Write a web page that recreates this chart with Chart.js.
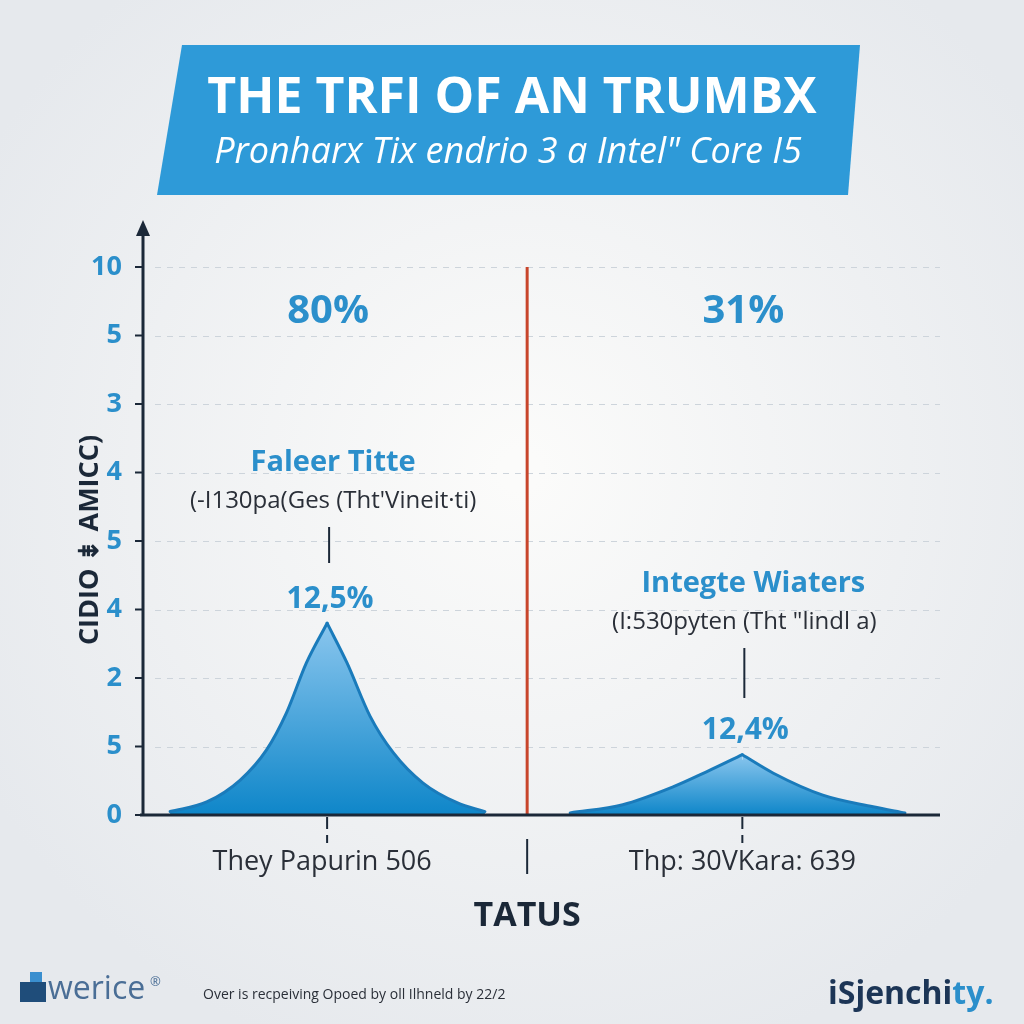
<!DOCTYPE html>
<html>
<head>
<meta charset="utf-8">
<script src="https://cdn.jsdelivr.net/npm/chart.js@4.4.1/dist/chart.umd.min.js"></script>
<style>
  html, body { margin: 0; padding: 0; background: #eceff2; }
  #wrap { width: 1024px; height: 1024px; }
</style>
</head>
<body>
<div id="wrap"><canvas id="chart" width="1024" height="1024"></canvas></div>
<script>
// data
const yTickValues = [0, 1, 2, 3, 4, 5, 6, 7, 8];
const yTickLabels = ['0', '5', '2', '4', '5', '4', '3', '5', '10'];

const leftX = [3.4, 8.0, 12.2, 15.5, 18.0, 20.5, 23.1, 25.6, 28.5, 31.4, 35.1, 39.4, 42.9];
const leftY = [0.05, 0.19, 0.51, 0.95, 1.49, 2.22, 2.80, 2.22, 1.44, 0.91, 0.47, 0.18, 0.05];

const rightX = [53.6, 60.2, 66.5, 70.7, 75.2, 79.1, 85.3, 91.6, 95.6];
const rightY = [0.03, 0.15, 0.41, 0.63, 0.88, 0.61, 0.29, 0.12, 0.03];

const dividerX = 48.2;

const categoryLabels = ['They Papurin 506', 'Thp: 30VKara: 639'];
const bigPercents = ['80%', '31%'];
const seriesNames = ['Faleer Titte', 'Integte Wiaters'];
const seriesNotes = ["(-I130pa(Ges (Tht'Vineit·ti)", '(I:530pyten (Tht "lindl a)'];
const peakLabels = ['12,5%', '12,4%'];

const titleText = 'THE TRFI OF AN TRUMBX';
const subtitleText = 'Pronharx Tix endrio 3 a Intel" Core I5';
const xTitle = 'TATUS';
const yTitle = 'CIDIO \u21DF AMICC)';

const toPoints = (xs, ys) => xs.map((x, i) => ({ x, y: ys[i] }));
const peakIndex = ys => ys.indexOf(Math.max(...ys));

function makeGradient(chart, topVal) {
    const ys = chart.scales.y;
    const g = chart.ctx.createLinearGradient(0, ys.getPixelForValue(topVal), 0, ys.getPixelForValue(0));
    g.addColorStop(0, '#8ac6ee');
    g.addColorStop(1, '#0e86c9');
    return g;
}

function areaFill(topVal) {
    return (context) => {
        const chart = context.chart;
        if (!chart.chartArea) return '#3a9ad8';
        return makeGradient(chart, topVal);
    };
}

// each peak is drawn as two halves so the top stays a sharp point
function halves(xs, ys) {
    const p = peakIndex(ys);
    const top = ys[p];
    const base = {
        borderColor: '#1a7bbb',
        borderWidth: 3,
        borderCapStyle: 'round',
        borderJoinStyle: 'round',
        backgroundColor: areaFill(top),
        fill: 'origin',
        pointRadius: 0,
        cubicInterpolationMode: 'monotone'
    };
    return [
        Object.assign({ data: toPoints(xs.slice(0, p + 1), ys.slice(0, p + 1)) }, base),
        Object.assign({ data: toPoints(xs.slice(p), ys.slice(p)) }, base)
    ];
}

const backdrop = {
    id: 'backdrop',
    beforeDraw(chart) {
        const ctx = chart.ctx;
        const W = chart.width, H = chart.height;
        ctx.save();
        const bg = ctx.createRadialGradient(520, 470, 20, 520, 470, 620);
        bg.addColorStop(0, '#fbfbfa');
        bg.addColorStop(1, '#e6e9ed');
        ctx.fillStyle = bg;
        ctx.fillRect(0, 0, W, H);

        // title banner
        ctx.fillStyle = '#2e9ad8';
        ctx.beginPath();
        ctx.moveTo(182, 45);
        ctx.lineTo(860, 45);
        ctx.lineTo(848, 195);
        ctx.lineTo(157, 195);
        ctx.closePath();
        ctx.fill();
        ctx.fillStyle = '#ffffff';
        ctx.textAlign = 'center';
        ctx.textBaseline = 'middle';
        ctx.font = 'bold 50px "Open Sans"';
        ctx.fillText(titleText, 512, 99);
        ctx.font = 'italic 36px "Open Sans"';
        ctx.fillText(subtitleText, 508, 153);

        // dashed grid
        const ys = chart.scales.y;
        const a = chart.chartArea;
        ctx.strokeStyle = '#cdd4db';
        ctx.lineWidth = 1;
        ctx.setLineDash([6, 6]);
        yTickValues.forEach(v => {
            if (v === 0) return;
            const py = Math.round(ys.getPixelForValue(v)) + 0.5;
            ctx.beginPath();
            ctx.moveTo(a.left + 12, py);
            ctx.lineTo(a.right, py);
            ctx.stroke();
        });
        ctx.restore();
    },
    afterDatasetsDraw(chart) {
        const ctx = chart.ctx;
        const xs = chart.scales.x, ys = chart.scales.y;
        const a = chart.chartArea;
        const y0 = ys.getPixelForValue(0);
        const peaksX = [leftX[peakIndex(leftY)], rightX[peakIndex(rightY)]];
        const peaksY = [Math.max(...leftY), Math.max(...rightY)];
        ctx.save();

        // hide the seam where the two halves of each peak meet
        peaksX.forEach((px, i) => {
            const cx = xs.getPixelForValue(px);
            ctx.strokeStyle = makeGradient(chart, peaksY[i]);
            ctx.lineWidth = 2;
            ctx.beginPath();
            ctx.moveTo(cx, ys.getPixelForValue(peaksY[i]) + 5);
            ctx.lineTo(cx, y0 - 1);
            ctx.stroke();
        });

        ctx.strokeStyle = '#1b2838';
        ctx.fillStyle = '#1b2838';
        ctx.lineWidth = 3;

        // axes
        ctx.beginPath();
        ctx.moveTo(a.left, y0);
        ctx.lineTo(a.left, 232);
        ctx.moveTo(a.left - 3, y0);
        ctx.lineTo(a.right, y0);
        ctx.stroke();
        ctx.beginPath();
        ctx.moveTo(a.left, 220);
        ctx.lineTo(a.left - 7, 236);
        ctx.lineTo(a.left + 7, 236);
        ctx.closePath();
        ctx.fill();

        // y ticks and labels
        ctx.lineWidth = 2;
        ctx.textAlign = 'right';
        ctx.textBaseline = 'middle';
        ctx.font = 'bold 27px "Open Sans"';
        yTickValues.forEach((v, i) => {
            const py = ys.getPixelForValue(v);
            ctx.strokeStyle = '#1b2838';
            ctx.beginPath();
            ctx.moveTo(a.left - 8, py);
            ctx.lineTo(a.left, py);
            ctx.stroke();
            ctx.fillStyle = '#2b8fcb';
            ctx.fillText(yTickLabels[i], a.left - 21, py);
        });

        // y title
        ctx.save();
        ctx.translate(90, 540);
        ctx.rotate(-Math.PI / 2);
        ctx.fillStyle = '#1b2838';
        ctx.textAlign = 'center';
        ctx.font = 'bold 27px "Open Sans"';
        ctx.fillText(yTitle, 0, 0);
        ctx.restore();

        // x ticks at peaks, category labels
        ctx.strokeStyle = '#1b2838';
        ctx.lineWidth = 2;
        peaksX.forEach((px, i) => {
            const cx = xs.getPixelForValue(px);
            ctx.beginPath();
            ctx.moveTo(cx, y0 + 2);
            ctx.lineTo(cx, y0 + 14);
            ctx.moveTo(cx, y0 + 20);
            ctx.lineTo(cx, y0 + 28);
            ctx.stroke();
            ctx.fillStyle = '#2a2f38';
            ctx.textAlign = 'center';
            ctx.font = '27px "Open Sans"';
            ctx.fillText(categoryLabels[i], cx - (i === 0 ? 5 : 0), y0 + 47);
        });
        const dx = xs.getPixelForValue(dividerX);
        ctx.beginPath();
        ctx.moveTo(dx, y0 + 24);
        ctx.lineTo(dx, y0 + 59);
        ctx.stroke();

        ctx.fillStyle = '#1b2838';
        ctx.font = 'bold 34px "Open Sans"';
        ctx.fillText(xTitle, dx, y0 + 101);

        // annotations
        const bigY = 312;
        const nameY = [463, 584];
        const peakTxtDy = 24;
        peaksX.forEach((px, i) => {
            const cx = xs.getPixelForValue(px);
            ctx.fillStyle = '#2b8fcb';
            ctx.font = 'bold 40px "Open Sans"';
            ctx.fillText(bigPercents[i], cx + 1, bigY);
            ctx.font = 'bold 29px "Open Sans"';
            ctx.fillText(seriesNames[i], cx + (i === 0 ? 6 : 11), nameY[i]);
            ctx.fillStyle = '#2a2f38';
            ctx.font = '24px "Open Sans"';
            ctx.fillText(seriesNotes[i], cx + (i === 0 ? 6 : 2), nameY[i] + 38);
            ctx.lineWidth = 2;
            ctx.beginPath();
            ctx.moveTo(cx + 2, nameY[i] + 64);
            ctx.lineTo(cx + 2, nameY[i] + 100 + (i === 1 ? 14 : 0));
            ctx.stroke();
            const py = ys.getPixelForValue(peaksY[i]);
            ctx.fillStyle = '#2b8fcb';
            ctx.font = 'bold 30px "Open Sans"';
            ctx.fillText(peakLabels[i], cx + 3, py - peakTxtDy);
        });

        // footer
        ctx.fillStyle = '#3a8fcf';
        ctx.fillRect(30, 972, 12, 10);
        ctx.fillStyle = '#1f4d7a';
        ctx.fillRect(20, 982, 26, 20);
        ctx.fillStyle = '#4a6e96';
        ctx.textAlign = 'left';
        ctx.font = '32px "Open Sans"';
        ctx.fillText('werice', 48, 990);
        ctx.font = '13px "Open Sans"';
        ctx.fillText('\u00AE', 150, 982);
        ctx.fillStyle = '#2a2f38';
        ctx.font = '14px "Open Sans"';
        ctx.fillText('Over is recpeiving Opoed by oll Ilhneld by 22/2', 203, 995);
        ctx.fillStyle = '#1c3556';
        ctx.font = 'bold 32px "Open Sans"';
        ctx.fillText('iSjenchi', 828, 995);
        const w = ctx.measureText('iSjenchi').width;
        ctx.fillStyle = '#2b8fcb';
        ctx.fillText('ty.', 828 + w, 995);
        ctx.restore();
    }
};

new Chart(document.getElementById('chart'), {
    type: 'line',
    data: {
        datasets: [
            ...halves(leftX, leftY),
            ...halves(rightX, rightY),
            {
                data: [{ x: dividerX, y: 0 }, { x: dividerX, y: 8 }],
                borderColor: '#c8452b',
                borderWidth: 3,
                pointRadius: 0,
                fill: false
            }
        ]
    },
    options: {
        responsive: false,
        animation: false,
        layout: { padding: { left: 143, right: 84, top: 267, bottom: 209 } },
        plugins: { legend: { display: false }, tooltip: { enabled: false } },
        scales: {
            x: { type: 'linear', min: 0, max: 100, display: false },
            y: { type: 'linear', min: 0, max: 8, display: false }
        }
    },
    plugins: [backdrop]
});
</script>
</body>
</html>
